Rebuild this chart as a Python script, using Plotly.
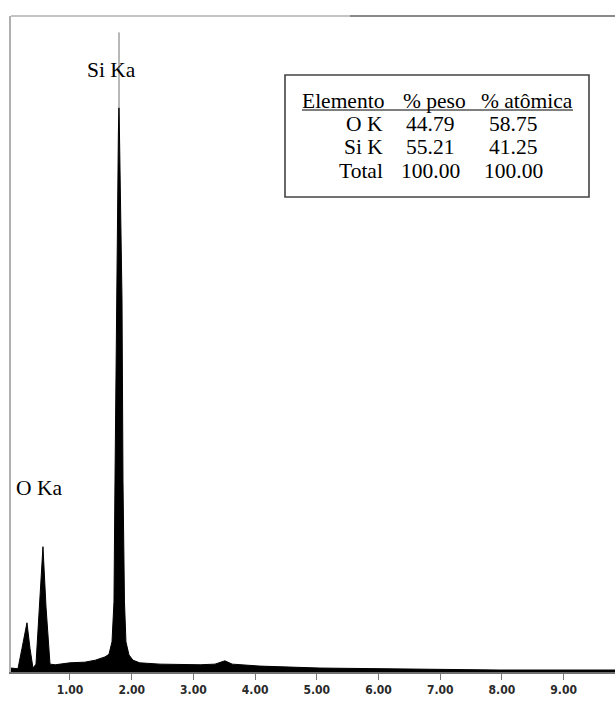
import plotly.graph_objects as go

# ---- data ----
energy_kev = [0.044, 0.157, 0.222, 0.303, 0.352, 0.400, 0.449, 0.500, 0.562, 0.611, 0.676,
              0.76, 1.00, 1.24, 1.41, 1.567, 1.632, 1.681, 1.713, 1.729, 1.754, 1.772,
              1.784, 1.794, 1.804, 1.822, 1.843, 1.859, 1.883, 1.907, 1.956, 2.021,
              2.13, 2.46, 3.11, 3.35, 3.51, 3.63, 4.08, 5.05, 6.35, 7.97, 9.833]
counts = [6, 5, 36, 75, 36, 6, 12, 100, 191, 100, 12,
          11, 14, 15, 18, 23, 27, 46, 107, 290, 568, 721,
          820, 870, 820, 721, 568, 290, 107, 46, 26, 18,
          14, 12, 11, 12, 17, 12, 9, 6, 5, 3, 3]

# faint tip of the Si Ka peak above the solid part
tip_energy = [1.794, 1.794]
tip_counts = [860, 975]

tick_values = [1, 2, 3, 4, 5, 6, 7, 8, 9]
tick_labels = ["1.00", "2.00", "3.00", "4.00", "5.00", "6.00", "7.00", "8.00", "9.00"]

peak_labels = ["Si Ka", "O Ka"]
peak_label_energy = [1.25, 0.10]
peak_label_counts = [918, 280]

table_header = ["Elemento", "% peso", "% atômica"]
table_elements = ["O K", "Si K", "Total"]
table_peso = ["44.79", "55.21", "100.00"]
table_atomica = ["58.75", "41.25", "100.00"]

# ---- layout geometry (pixels of the 615x704 canvas) ----
W, H = 615, 704
L, R, T, B = 11, 0, 16, 32
PW, PH = W - L - R, H - T - B


def px(x):
    return (x - L) / PW


def py(y):
    return (H - B - y) / PH


SERIF = "Liberation Serif, Times New Roman, serif"
FS = 21.5

fig = go.Figure()
fig.add_trace(go.Scatter(x=energy_kev, y=counts, mode="lines",
                         line=dict(color="black", width=1),
                         fill="tozeroy", fillcolor="black",
                         hoverinfo="skip", showlegend=False))
fig.add_trace(go.Scatter(x=tip_energy, y=tip_counts, mode="lines",
                         line=dict(color="#b8b8b8", width=2),
                         hoverinfo="skip", showlegend=False))

annotations = []
for t, xe, yc in zip(peak_labels, peak_label_energy, peak_label_counts):
    annotations.append(dict(x=xe, y=yc, xref="x", yref="y", text=t, showarrow=False,
                            xanchor="left", yanchor="middle",
                            font=dict(family=SERIF, size=FS, color="black")))

# table
header_cx = [343, 434, 527]
for t, cx in zip(table_header, header_cx):
    annotations.append(dict(x=px(cx), y=py(101), xref="paper", yref="paper", text=t,
                            showarrow=False, xanchor="center", yanchor="middle",
                            font=dict(family=SERIF, size=FS, color="black")))
row_cy = [124, 147, 171]
for e, p, a, cy in zip(table_elements, table_peso, table_atomica, row_cy):
    annotations.append(dict(x=px(385), y=py(cy), xref="paper", yref="paper", text=e,
                            showarrow=False, xanchor="right", yanchor="middle",
                            font=dict(family=SERIF, size=FS, color="black")))
    annotations.append(dict(x=px(430), y=py(cy), xref="paper", yref="paper", text=p,
                            showarrow=False, xanchor="center", yanchor="middle",
                            font=dict(family=SERIF, size=FS, color="black")))
    annotations.append(dict(x=px(513), y=py(cy), xref="paper", yref="paper", text=a,
                            showarrow=False, xanchor="center", yanchor="middle",
                            font=dict(family=SERIF, size=FS, color="black")))

shapes = [
    # table frame
    dict(type="rect", xref="paper", yref="paper", x0=px(285), x1=px(589),
         y0=py(197), y1=py(75), line=dict(color="#444", width=1.6), fillcolor="rgba(0,0,0,0)"),
    # header underline
    dict(type="line", xref="paper", yref="paper", x0=px(302), x1=px(573),
         y0=py(110), y1=py(110), line=dict(color="black", width=1.2)),
    # top frame line
    dict(type="line", xref="paper", yref="paper", x0=0, x1=px(350),
         y0=1, y1=1, line=dict(color="#c4c4c4", width=2)),
    dict(type="line", xref="paper", yref="paper", x0=px(350), x1=1,
         y0=1, y1=1, line=dict(color="#8a8a8a", width=2)),
]

fig.update_layout(
    width=W, height=H,
    margin=dict(l=L, r=R, t=T, b=B, pad=0),
    paper_bgcolor="white", plot_bgcolor="white",
    annotations=annotations, shapes=shapes,
    xaxis=dict(range=[0.044, 9.833], showgrid=False, zeroline=False,
               showline=True, linecolor="#6f6f6f", linewidth=2,
               ticks="outside", ticklen=6, tickwidth=1, tickcolor="#777",
               tickvals=tick_values, ticktext=tick_labels,
               tickfont=dict(family="DejaVu Sans Condensed, Liberation Sans Narrow, Arial Narrow, sans-serif",
                             size=12, color="#2a2a2a", weight="bold")),
    yaxis=dict(range=[0, 1000], showgrid=False, zeroline=False,
               showline=True, linecolor="#b0b0b0", linewidth=2,
               showticklabels=False, ticks=""),
)

fig.write_html("out.html")
